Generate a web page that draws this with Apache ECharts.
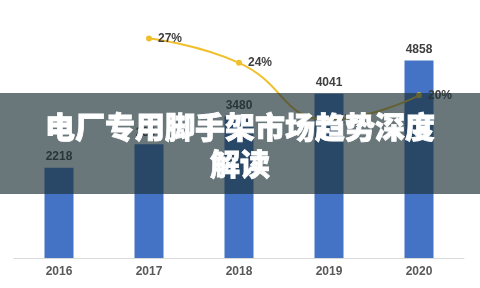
<!DOCTYPE html>
<html>
<head>
<meta charset="utf-8">
<script src="https://cdn.jsdelivr.net/npm/echarts@6/dist/echarts.min.js"></script>
<style>
  html, body { margin: 0; padding: 0; background: #fff; }
  #chart { width: 480px; height: 288px; }
</style>
</head>
<body>
<div id="chart"></div>
<script>
// Market size by year (bars) and growth rate (line, %)
const years = ['2016', '2017', '2018', '2019', '2020'];
const marketSize = [2218, 2800, 3480, 4041, 4858];
const growthRate = [null, 27, 24, 17, 20];
const headline = '电厂专用脚手架市场趋势深度\n解读';

const chart = echarts.init(document.getElementById('chart'), null, { renderer: 'canvas' });

chart.setOption({
  animation: false,
  backgroundColor: '#ffffff',
  textStyle: { fontFamily: '"Liberation Sans", Arial, sans-serif' },
  grid: { left: 14, right: 16, top: 14, bottom: 30, containLabel: false },
  xAxis: {
    type: 'category',
    data: years,
    axisLine: { lineStyle: { color: '#d9d9d9', width: 1 } },
    axisTick: { show: false },
    axisLabel: { color: '#595959', fontSize: 12, fontWeight: 'bold', margin: 8 }
  },
  yAxis: [
    { type: 'value', min: 0, max: 6000, show: false, splitLine: { show: false } },
    { type: 'value', min: 0, max: 30, show: false, splitLine: { show: false } }
  ],
  series: [
    {
      type: 'bar',
      data: marketSize,
      barWidth: 29,
      itemStyle: { color: '#4472c4' },
      label: {
        show: true, position: 'top', distance: 5,
        color: '#404040', fontSize: 12, fontWeight: 'bold'
      }
    },
    {
      type: 'line',
      yAxisIndex: 1,
      data: growthRate,
      smooth: true,
      symbol: 'circle',
      symbolSize: 6,
      lineStyle: { color: '#f0bf2c', width: 2 },
      itemStyle: { color: '#f0bf2c' },
      label: {
        show: true, position: 'right', distance: 6,
        color: '#404040', fontSize: 12, fontWeight: 'bold',
        formatter: p => p.value + '%'
      }
    }
  ],
  graphic: [
    {
      type: 'rect',
      z: 100,
      shape: { x: 0, y: 93, width: 480, height: 101 },
      style: { fill: 'rgba(28,48,54,0.66)' }
    },
    {
      type: 'text',
      z: 101,
      x: 240,
      y: 145,
      style: {
        text: headline,
        fill: '#ffffff',
        stroke: '#ffffff',
        lineWidth: 0.8,
        font: '900 30px "Noto Sans CJK SC", sans-serif',
        textAlign: 'center',
        textVerticalAlign: 'middle',
        lineHeight: 37
      }
    }
  ]
});
</script>
</body>
</html>
